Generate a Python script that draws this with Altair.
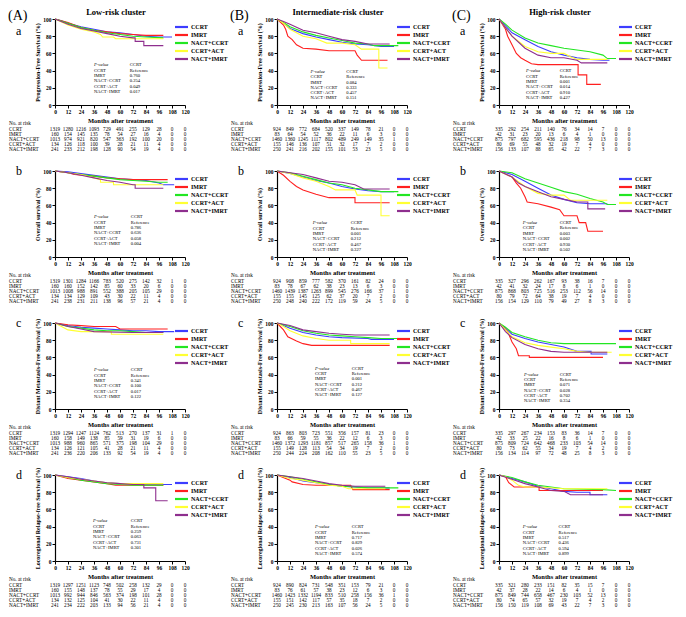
import altair as alt
import pandas as pd

SERIES = ["CCRT", "IMRT", "NACT+CCRT", "CCRT+ACT", "NACT+IMRT"]
COLORS = ["#3d3dff", "#ff1f1f", "#22e622", "#ffff33", "#8e2f8e"]
MONTHS = [0, 12, 24, 36, 48, 60, 72, 84, 96, 108, 120]
YTICKS = [0, 20, 40, 60, 80, 100]

# ---------------- Low-risk cluster ----------------
LOW_PFS = {
    "CCRT": [(0, 100), (6, 98), (12, 95), (24, 91), (36, 88), (48, 85), (60, 84), (72, 82), (84, 80), (96, 79), (108, 79)],
    "IMRT": [(0, 100), (12, 96), (24, 90), (36, 87), (48, 85), (60, 83), (72, 82), (84, 81), (100, 81)],
    "NACT+CCRT": [(0, 100), (12, 95), (24, 90), (36, 87), (48, 84), (60, 82), (72, 80), (84, 79), (100, 78)],
    "CCRT+ACT": [(0, 100), (12, 93), (24, 88), (36, 85), (42, 82), (44, 79), (54, 79), (56, 77), (100, 77)],
    "NACT+IMRT": [(0, 100), (12, 94), (24, 89), (36, 86), (48, 83), (60, 80), (72, 78), (74, 78), (74, 74), (82, 74), (82, 69), (100, 69)],
}
LOW_OS = {
    "CCRT": [(0, 100), (12, 99), (24, 97), (36, 95), (48, 93), (60, 91), (72, 90), (84, 89), (96, 86), (100, 84), (110, 84)],
    "IMRT": [(0, 100), (12, 98), (18, 96), (36, 94), (48, 92), (60, 91), (72, 90), (104, 90)],
    "NACT+CCRT": [(0, 100), (12, 98), (24, 96), (36, 94), (48, 92), (60, 90), (72, 89), (84, 88), (96, 87), (104, 87)],
    "CCRT+ACT": [(0, 100), (12, 98), (24, 96), (36, 92), (42, 90), (42, 87), (54, 87), (54, 84), (100, 84)],
    "NACT+IMRT": [(0, 100), (12, 98), (24, 95), (36, 92), (48, 89), (60, 87), (72, 84), (74, 84), (74, 80), (100, 80)],
}
LOW_DMFS = {
    "CCRT": [(0, 100), (12, 97), (24, 95), (36, 94), (48, 93), (60, 92), (72, 91), (84, 91), (96, 90), (110, 90)],
    "IMRT": [(0, 100), (12, 98), (24, 97), (36, 96), (56, 96), (60, 93), (104, 93)],
    "NACT+CCRT": [(0, 100), (6, 98), (12, 96), (24, 94), (36, 92), (48, 91), (60, 91), (72, 90), (84, 89), (100, 89)],
    "CCRT+ACT": [(0, 100), (6, 96), (12, 92), (24, 90), (52, 90), (52, 87), (100, 87)],
    "NACT+IMRT": [(0, 100), (12, 96), (24, 93), (36, 90), (72, 89), (100, 89)],
}
LOW_LRFS = {
    "CCRT": [(0, 100), (12, 98), (24, 96), (36, 93), (48, 91), (60, 90), (72, 90), (84, 89), (108, 89)],
    "IMRT": [(0, 100), (12, 96), (24, 94), (36, 92), (48, 90), (56, 88), (100, 88)],
    "NACT+CCRT": [(0, 100), (12, 97), (24, 94), (36, 92), (48, 90), (60, 89), (72, 88), (100, 88)],
    "CCRT+ACT": [(0, 100), (12, 97), (24, 95), (36, 93), (48, 91), (60, 90), (100, 90)],
    "NACT+IMRT": [(0, 100), (12, 98), (24, 95), (36, 93), (48, 91), (60, 90), (72, 89), (82, 89), (82, 85), (93, 85), (93, 70), (104, 70)],
}

# ---------------- Intermediate-risk cluster ----------------
INT_PFS = {
    "CCRT": [(0, 100), (6, 95), (12, 89), (24, 83), (36, 79), (48, 76), (60, 73), (72, 71), (84, 70), (96, 68), (108, 68)],
    "IMRT": [(0, 100), (6, 93), (8, 88), (10, 80), (14, 76), (18, 70), (24, 66), (36, 65), (48, 63), (72, 63), (74, 58), (78, 52), (102, 52)],
    "NACT+CCRT": [(0, 100), (6, 96), (12, 91), (24, 85), (36, 81), (48, 78), (60, 75), (72, 72), (84, 71), (90, 69), (112, 69)],
    "CCRT+ACT": [(0, 100), (6, 95), (12, 88), (24, 80), (36, 77), (46, 72), (60, 72), (72, 70), (78, 65), (94, 65), (94, 43), (102, 43)],
    "NACT+IMRT": [(0, 100), (6, 97), (12, 94), (24, 87), (36, 84), (48, 80), (60, 76), (72, 74), (84, 71), (104, 71)],
}
INT_OS = {
    "CCRT": [(0, 100), (12, 97), (24, 93), (36, 89), (48, 86), (60, 82), (72, 79), (84, 77), (96, 76), (108, 76)],
    "IMRT": [(0, 100), (6, 95), (12, 88), (18, 82), (24, 78), (36, 73), (48, 69), (72, 69), (72, 63), (104, 63)],
    "NACT+CCRT": [(0, 100), (12, 98), (24, 94), (36, 90), (48, 86), (60, 84), (72, 80), (84, 78), (96, 76), (112, 76)],
    "CCRT+ACT": [(0, 100), (12, 97), (24, 92), (36, 88), (48, 82), (54, 78), (72, 78), (74, 72), (96, 72), (96, 48), (104, 48)],
    "NACT+IMRT": [(0, 100), (12, 98), (24, 96), (36, 92), (48, 88), (60, 87), (72, 84), (80, 79), (104, 79)],
}
INT_DMFS = {
    "CCRT": [(0, 100), (12, 94), (24, 89), (36, 86), (48, 84), (60, 83), (84, 82), (87, 81), (108, 81)],
    "IMRT": [(0, 100), (6, 92), (10, 84), (18, 79), (24, 76), (32, 74), (104, 74)],
    "NACT+CCRT": [(0, 100), (12, 96), (24, 91), (36, 88), (48, 86), (60, 85), (72, 84), (84, 83), (96, 82), (112, 82)],
    "CCRT+ACT": [(0, 100), (6, 96), (12, 91), (24, 85), (36, 82), (48, 80), (68, 80), (68, 76), (104, 76)],
    "NACT+IMRT": [(0, 100), (12, 97), (24, 92), (36, 90), (48, 88), (60, 87), (72, 86), (104, 86)],
}
INT_LRFS = {
    "CCRT": [(0, 100), (12, 97), (24, 93), (36, 91), (48, 89), (60, 87), (72, 86), (84, 85), (104, 85)],
    "IMRT": [(0, 100), (12, 94), (14, 92), (24, 89), (36, 88), (68, 88), (70, 83), (104, 83)],
    "NACT+CCRT": [(0, 100), (12, 98), (24, 95), (36, 92), (48, 89), (60, 87), (72, 86), (84, 85), (112, 85)],
    "CCRT+ACT": [(0, 100), (6, 98), (12, 96), (24, 94), (36, 91), (48, 88), (60, 87), (66, 84), (100, 84)],
    "NACT+IMRT": [(0, 100), (12, 98), (24, 96), (36, 93), (48, 90), (60, 88), (72, 87), (100, 87)],
}

# ---------------- High-risk cluster ----------------
HIGH_PFS = {
    "CCRT": [(0, 100), (6, 92), (12, 84), (24, 76), (36, 68), (48, 62), (60, 58), (72, 55), (84, 53), (96, 52), (102, 52)],
    "IMRT": [(0, 100), (6, 88), (8, 80), (12, 70), (16, 60), (20, 55), (24, 52), (30, 48), (36, 47), (73, 47), (73, 35), (81, 35), (81, 24), (94, 24)],
    "NACT+CCRT": [(0, 100), (6, 94), (12, 87), (24, 78), (36, 72), (48, 69), (60, 66), (72, 64), (84, 62), (96, 58), (100, 54), (108, 54)],
    "CCRT+ACT": [(0, 100), (6, 90), (12, 80), (24, 68), (36, 62), (48, 60), (60, 60), (66, 56), (72, 53), (100, 53)],
    "NACT+IMRT": [(0, 100), (6, 90), (12, 80), (24, 66), (36, 58), (48, 55), (60, 55), (72, 52), (76, 49), (100, 49)],
}
HIGH_OS = {
    "CCRT": [(0, 100), (12, 96), (24, 88), (36, 80), (48, 72), (60, 67), (72, 63), (84, 62), (100, 62)],
    "IMRT": [(0, 100), (12, 93), (16, 86), (20, 80), (24, 70), (26, 64), (36, 62), (48, 58), (56, 55), (60, 48), (72, 48), (74, 40), (80, 40), (82, 30), (96, 30)],
    "NACT+CCRT": [(0, 100), (12, 98), (24, 91), (36, 86), (48, 81), (60, 76), (72, 73), (84, 68), (96, 64), (100, 61), (108, 61)],
    "CCRT+ACT": [(0, 100), (12, 93), (24, 82), (36, 74), (48, 72), (60, 72), (66, 66), (100, 66)],
    "NACT+IMRT": [(0, 100), (12, 93), (18, 86), (24, 82), (36, 76), (48, 70), (60, 67), (72, 64), (82, 64), (82, 56), (98, 56)],
}
HIGH_DMFS = {
    "CCRT": [(0, 100), (6, 94), (12, 87), (24, 82), (36, 78), (48, 75), (60, 72), (72, 67), (85, 67), (85, 64), (100, 64)],
    "IMRT": [(0, 100), (8, 90), (12, 78), (16, 70), (18, 62), (28, 62), (28, 60), (96, 60)],
    "NACT+CCRT": [(0, 100), (6, 95), (12, 89), (24, 84), (36, 80), (48, 77), (60, 76), (108, 76)],
    "CCRT+ACT": [(0, 100), (6, 92), (12, 84), (24, 77), (36, 74), (48, 72), (60, 70), (72, 67), (84, 66), (104, 66)],
    "NACT+IMRT": [(0, 100), (6, 90), (12, 83), (24, 75), (36, 70), (48, 67), (60, 66), (100, 66)],
}
HIGH_LRFS = {
    "CCRT": [(0, 100), (12, 96), (24, 92), (36, 87), (48, 84), (60, 81), (72, 80), (84, 80), (84, 77), (100, 77)],
    "IMRT": [(0, 100), (6, 98), (9, 91), (14, 86), (37, 86), (37, 82), (96, 82)],
    "NACT+CCRT": [(0, 100), (12, 97), (24, 92), (36, 88), (48, 86), (60, 84), (96, 83), (108, 82)],
    "CCRT+ACT": [(0, 100), (6, 98), (12, 94), (18, 88), (24, 86), (36, 86), (60, 84), (100, 84)],
    "NACT+IMRT": [(0, 100), (12, 95), (24, 90), (36, 86), (48, 82), (60, 81), (66, 77), (96, 77)],
}

# ---------------- Numbers at risk ----------------
LOW_PFS_RISK = {
    "CCRT": [1319, 1280, 1216, 1093, 729, 491, 255, 129, 28, 0, 0],
    "IMRT": [160, 154, 145, 135, 78, 54, 27, 16, 4, 0, 0],
    "NACT+CCRT": [1013, 974, 921, 820, 547, 363, 192, 100, 20, 0, 0],
    "CCRT+ACT": [134, 126, 118, 100, 39, 28, 21, 11, 4, 0, 0],
    "NACT+IMRT": [241, 233, 212, 198, 128, 90, 54, 19, 4, 0, 0],
}
LOW_OS_RISK = {
    "CCRT": [1319, 1301, 1284, 1166, 783, 520, 275, 142, 32, 1, 0],
    "IMRT": [160, 160, 152, 142, 85, 60, 33, 20, 6, 0, 0],
    "NACT+CCRT": [1013, 1008, 988, 891, 552, 388, 205, 105, 29, 0, 0],
    "CCRT+ACT": [134, 134, 129, 109, 43, 30, 22, 11, 4, 0, 0],
    "NACT+IMRT": [241, 238, 231, 211, 138, 96, 57, 21, 4, 0, 0],
}
LOW_DMFS_RISK = {
    "CCRT": [1319, 1294, 1247, 1124, 762, 513, 270, 137, 31, 1, 0],
    "IMRT": [160, 158, 149, 138, 85, 59, 31, 19, 6, 0, 0],
    "NACT+CCRT": [1013, 988, 960, 865, 571, 375, 198, 104, 29, 0, 0],
    "CCRT+ACT": [134, 126, 121, 105, 41, 28, 21, 11, 4, 0, 0],
    "NACT+IMRT": [241, 236, 220, 206, 133, 92, 54, 19, 4, 0, 0],
}
LOW_LRFS_RISK = {
    "CCRT": [1319, 1297, 1251, 1123, 748, 502, 258, 132, 29, 0, 0],
    "IMRT": [160, 155, 148, 137, 78, 55, 29, 17, 4, 0, 0],
    "NACT+CCRT": [1013, 992, 944, 846, 563, 374, 198, 101, 28, 0, 0],
    "CCRT+ACT": [134, 132, 125, 104, 41, 30, 22, 11, 4, 0, 0],
    "NACT+IMRT": [241, 234, 222, 203, 133, 94, 56, 21, 4, 0, 0],
}
INT_PFS_RISK = {
    "CCRT": [924, 849, 772, 684, 520, 337, 149, 78, 21, 0, 0],
    "IMRT": [83, 64, 54, 52, 36, 22, 11, 6, 3, 0, 0],
    "NACT+CCRT": [1460, 1360, 1245, 1117, 802, 489, 249, 149, 35, 1, 0],
    "CCRT+ACT": [155, 146, 136, 107, 51, 32, 17, 7, 2, 0, 0],
    "NACT+IMRT": [250, 241, 216, 202, 155, 101, 53, 23, 5, 0, 0],
}
INT_OS_RISK = {
    "CCRT": [924, 908, 859, 777, 582, 370, 161, 82, 24, 0, 0],
    "IMRT": [83, 78, 67, 62, 38, 23, 13, 6, 3, 0, 0],
    "NACT+CCRT": [1460, 1439, 1387, 1263, 899, 545, 276, 166, 37, 1, 0],
    "CCRT+ACT": [155, 155, 145, 125, 62, 37, 20, 7, 2, 0, 0],
    "NACT+IMRT": [250, 248, 240, 222, 172, 119, 59, 24, 5, 0, 0],
}
INT_DMFS_RISK = {
    "CCRT": [924, 863, 803, 723, 551, 356, 157, 81, 23, 0, 0],
    "IMRT": [83, 66, 59, 55, 36, 22, 12, 6, 3, 0, 0],
    "NACT+CCRT": [1460, 1372, 1293, 1181, 857, 517, 265, 158, 36, 1, 0],
    "CCRT+ACT": [155, 149, 128, 113, 54, 34, 19, 7, 2, 0, 0],
    "NACT+IMRT": [250, 244, 224, 208, 162, 110, 55, 23, 5, 0, 0],
}
INT_LRFS_RISK = {
    "CCRT": [924, 890, 824, 731, 548, 351, 153, 79, 21, 0, 0],
    "IMRT": [83, 76, 61, 57, 38, 23, 12, 6, 3, 0, 0],
    "NACT+CCRT": [1460, 1423, 1332, 1194, 833, 510, 258, 156, 36, 1, 0],
    "CCRT+ACT": [155, 151, 142, 117, 57, 35, 18, 7, 2, 0, 0],
    "NACT+IMRT": [250, 245, 230, 213, 163, 107, 56, 24, 5, 0, 0],
}
HIGH_PFS_RISK = {
    "CCRT": [335, 292, 254, 211, 140, 76, 34, 14, 7, 0, 0],
    "IMRT": [42, 31, 23, 20, 13, 6, 4, 1, 0, 0, 0],
    "NACT+CCRT": [875, 797, 682, 595, 436, 218, 98, 50, 13, 0, 0],
    "CCRT+ACT": [80, 69, 55, 48, 32, 19, 7, 4, 0, 0, 0],
    "NACT+IMRT": [156, 133, 107, 88, 65, 42, 22, 7, 3, 0, 0],
}
HIGH_OS_RISK = {
    "CCRT": [335, 327, 296, 262, 167, 93, 38, 16, 7, 0, 0],
    "IMRT": [42, 41, 32, 24, 17, 8, 6, 1, 0, 0, 0],
    "NACT+CCRT": [875, 868, 803, 725, 516, 253, 112, 56, 14, 0, 0],
    "CCRT+ACT": [80, 79, 72, 64, 38, 19, 7, 4, 0, 0, 0],
    "NACT+IMRT": [156, 154, 129, 110, 79, 49, 27, 8, 3, 0, 0],
}
HIGH_DMFS_RISK = {
    "CCRT": [335, 297, 267, 234, 153, 83, 36, 14, 7, 0, 0],
    "IMRT": [42, 33, 25, 22, 16, 8, 6, 1, 0, 0, 0],
    "NACT+CCRT": [875, 809, 724, 642, 468, 233, 103, 54, 14, 0, 0],
    "CCRT+ACT": [80, 73, 62, 55, 34, 19, 7, 4, 2, 0, 0],
    "NACT+IMRT": [156, 134, 114, 97, 72, 48, 25, 8, 3, 0, 0],
}
HIGH_LRFS_RISK = {
    "CCRT": [335, 321, 280, 233, 151, 82, 35, 15, 7, 0, 0],
    "IMRT": [42, 37, 28, 22, 14, 6, 4, 1, 0, 0, 0],
    "NACT+CCRT": [875, 849, 744, 658, 467, 230, 103, 52, 13, 0, 0],
    "CCRT+ACT": [80, 74, 65, 57, 32, 19, 7, 4, 2, 0, 0],
    "NACT+IMRT": [156, 150, 119, 108, 69, 43, 22, 7, 3, 0, 0],
}

# ---------------- P-values (vs CCRT reference) ----------------
LOW_PFS_P = ["0.760", "0.254", "0.049", "0.017"]
LOW_OS_P = ["0.786", "0.636", "0.058", "0.004"]
LOW_DMFS_P = ["0.341", "0.100", "0.017", "0.122"]
LOW_LRFS_P = ["0.259", "0.063", "0.731", "0.301"]
INT_PFS_P = ["0.084", "0.333", "0.457", "0.151"]
INT_OS_P = ["0.001", "0.212", "0.467", "0.327"]
INT_DMFS_P = ["0.001", "0.212", "0.467", "0.127"]
INT_LRFS_P = ["0.717", "0.829", "0.026", "0.574"]
HIGH_PFS_P = ["0.001", "0.014", "0.910", "0.427"]
HIGH_OS_P = ["0.003", "0.002", "0.930", "0.502"]
HIGH_DMFS_P = ["0.071", "0.028", "0.702", "0.354"]
HIGH_LRFS_P = ["0.517", "0.436", "0.594", "0.899"]

YTITLES = ["Progression-Free Survival (%)", "Overall survival (%)",
           "Distant Metastasis-Free Survival (%)", "Locoregional Relapse-free Survival (%)"]
COL_TITLES = ["Low-risk cluster", "Intermediate-risk cluster", "High-risk cluster"]
COL_TAGS = ["(A)", "(B)", "(C)"]
ROW_TAGS = ["a", "b", "c", "d"]

# ---------------- layout (not data) ----------------
W, H = 130, 86
SERIF = "Liberation Serif"
# p-value block placement per panel: (x col1 months, x col2 months, y top %, y bottom %)
PPOS = {
    (0, 0): (36, 69, 46, 15), (0, 1): (36, 70, 46, 15), (0, 2): (36, 70, 45, 14), (0, 3): (35, 70, 46, 15),
    (1, 0): (31, 64, 38, 8), (1, 1): (33, 68, 39, 8), (1, 2): (35, 69, 47, 16), (1, 3): (35, 69, 39, 8),
    (2, 0): (25, 56, 39, 8), (2, 1): (22, 56, 40, 8), (2, 2): (23, 56, 40, 9), (2, 3): (22, 55, 39, 8),
}

CURVES = [[LOW_PFS, LOW_OS, LOW_DMFS, LOW_LRFS],
          [INT_PFS, INT_OS, INT_DMFS, INT_LRFS],
          [HIGH_PFS, HIGH_OS, HIGH_DMFS, HIGH_LRFS]]
RISKS = [[LOW_PFS_RISK, LOW_OS_RISK, LOW_DMFS_RISK, LOW_LRFS_RISK],
         [INT_PFS_RISK, INT_OS_RISK, INT_DMFS_RISK, INT_LRFS_RISK],
         [HIGH_PFS_RISK, HIGH_OS_RISK, HIGH_DMFS_RISK, HIGH_LRFS_RISK]]
PVALS = [[LOW_PFS_P, LOW_OS_P, LOW_DMFS_P, LOW_LRFS_P],
         [INT_PFS_P, INT_OS_P, INT_DMFS_P, INT_LRFS_P],
         [HIGH_PFS_P, HIGH_OS_P, HIGH_DMFS_P, HIGH_LRFS_P]]

color = alt.Color("series:N", scale=alt.Scale(domain=SERIES, range=COLORS), legend=None)
xscale = alt.Scale(domain=[0, 120], nice=False, zero=False)
yscale = alt.Scale(domain=[0, 100], nice=False, zero=False)

XAX = alt.Axis(values=MONTHS, title="Months after treatment", labelFontSize=5.5, labelFontWeight="bold",
               titleFontSize=6.5, titleFontWeight="bold", tickSize=3, labelPadding=1, titlePadding=3,
               labelFlush=False, labelOverlap=False, grid=False, format="d")


def make_cell(c, r):
    curves = CURVES[c][r]
    risk = RISKS[c][r]
    pv = PVALS[c][r]

    rows = []
    for si, name in enumerate(SERIES):
        for k, (t, s) in enumerate(curves[name]):
            rows.append({"series": name, "t": t, "s": s, "k": k})
    df = pd.DataFrame(rows)

    lines = alt.Chart(df).mark_line(strokeWidth=1.1).encode(
        x=alt.X("t:Q", scale=xscale, axis=XAX),
        y=alt.Y("s:Q", scale=yscale, axis=alt.Axis(
            values=YTICKS, title=YTITLES[r], labelFontSize=5.5, labelFontWeight="bold",
            titleFontSize=6, titleFontWeight="bold", tickSize=3, labelPadding=1, titlePadding=2,
            grid=False, labelFlush=False)),
        color=color,
        order="k:Q",
        detail="series:N",
    )

    # legend
    leg = pd.DataFrame({"series": SERIES, "li": list(range(len(SERIES)))})
    legy = alt.Y("li:Q", scale=alt.Scale(domain=[0, 4], range=[8, 40], nice=False, zero=False), axis=None)
    leg_rule = alt.Chart(leg).mark_rule(strokeWidth=2.2).encode(
        x=alt.value(W - 10), x2=alt.value(W + 3), y=legy, color=color)
    leg_text = alt.Chart(leg).mark_text(align="left", baseline="middle", font=SERIF, fontSize=6,
                                        fontWeight="bold", color="black").encode(
        x=alt.value(W + 6), y=legy, text="series:N")

    # p-value block
    x1, x2, yt, yb = PPOS[(c, r)]
    left_col = ["P-value", "CCRT", "IMRT", "NACT+CCRT", "CCRT+ACT", "NACT+IMRT"]
    right_col = ["CCRT", "Reference"] + pv
    pys = [yt - i * (yt - yb) / 5 for i in range(6)]
    pdf = pd.DataFrame({"a": left_col, "b": right_col, "py": pys, "x1": [x1] * 6, "x2": [x2] * 6})
    py = alt.Y("py:Q", scale=yscale, axis=None)
    p_left_first = alt.Chart(pdf.iloc[:1]).mark_text(align="left", baseline="middle", font=SERIF,
                                                      fontSize=4.6, fontStyle="italic", color="black").encode(
        x=alt.X("x1:Q", scale=xscale, axis=XAX), y=py, text="a:N")
    p_left = alt.Chart(pdf.iloc[1:]).mark_text(align="left", baseline="middle", font=SERIF,
                                                fontSize=4.6, color="black").encode(
        x=alt.X("x1:Q", scale=xscale, axis=XAX), y=py, text="a:N")
    p_right = alt.Chart(pdf).mark_text(align="left", baseline="middle", font=SERIF,
                                       fontSize=4.6, color="black").encode(
        x=alt.X("x2:Q", scale=xscale, axis=XAX), y=py, text="b:N")

    # at-risk table
    trows = []
    for ri, name in enumerate(SERIES):
        for m, n in zip(MONTHS, risk[name]):
            trows.append({"row": ri, "m": m, "n": str(n)})
    tdf = pd.DataFrame(trows)
    ty = alt.Y("row:Q", scale=alt.Scale(domain=[0, 4], range=[H + 24, H + 43.5], nice=False, zero=False),
               axis=None)
    nums = alt.Chart(tdf).mark_text(baseline="middle", font=SERIF, fontSize=5.2, color="black").encode(
        x=alt.X("m:Q", scale=xscale, axis=XAX), y=ty, text="n:N")
    ldf = pd.DataFrame({"row": [-1.25] + list(range(len(SERIES))), "lab": ["No. at risk"] + SERIES})
    labs = alt.Chart(ldf).mark_text(align="left", baseline="middle", font=SERIF, fontSize=5.2,
                                    color="black").encode(x=alt.value(-46), y=ty, text="lab:N")

    layers = [lines, leg_rule, leg_text, p_left_first, p_left, p_right, nums, labs]

    # panel letters and column title
    if r == 0:
        tag = alt.Chart(pd.DataFrame({"lab": [COL_TAGS[c]]})).mark_text(
            align="left", baseline="alphabetic", font=SERIF, fontSize=14, color="black").encode(
            x=alt.value(-47), y=alt.value(1), text="lab:N")
        ttl = alt.Chart(pd.DataFrame({"lab": [COL_TITLES[c]]})).mark_text(
            align="center", baseline="middle", font=SERIF, fontSize=8.5, fontWeight="bold",
            color="black").encode(x=alt.value(W / 2 - 4), y=alt.value(-7), text="lab:N")
        layers += [tag, ttl]
        let_y = 16
    else:
        let_y = 4
    letter = alt.Chart(pd.DataFrame({"lab": [ROW_TAGS[r]]})).mark_text(
        align="left", baseline="alphabetic", font=SERIF, fontSize=12, color="black").encode(
        x=alt.value(-39), y=alt.value(let_y), text="lab:N")
    layers.append(letter)

    return alt.layer(*layers).resolve_scale(y="independent").properties(width=W, height=H)


cells = []
for r in range(4):
    for c in range(3):
        cells.append(make_cell(c, r))

chart = alt.concat(*cells, columns=3, spacing={"row": 66, "column": 92}, bounds="flush").configure_view(
    stroke=None
).configure_axis(
    labelFont=SERIF, titleFont=SERIF, labelColor="black", titleColor="black",
    domainColor="black", tickColor="black", domainWidth=1.2, tickWidth=1
).properties(padding={"left": 0, "top": 0, "right": 2, "bottom": 0}, background="white")

chart.save("out.html", embed_options={"renderer": "svg", "actions": False})
